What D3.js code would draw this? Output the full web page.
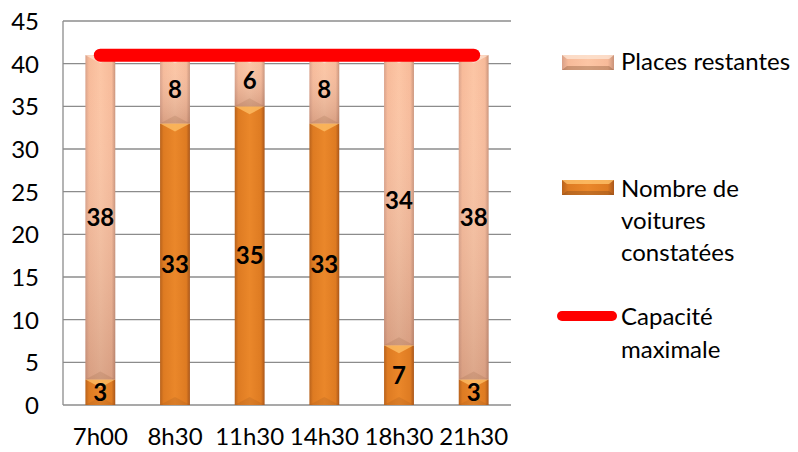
<!DOCTYPE html>
<html>
<head>
<meta charset="utf-8">
<script src="https://cdn.jsdelivr.net/npm/d3@7/dist/d3.min.js"></script>
<style>
  html, body { margin: 0; padding: 0; background: #fff; }
  svg { display: block; font-family: Lato, "Open Sans", sans-serif; }
</style>
</head>
<body>
<svg id="chart" width="798" height="452"></svg>
<script>
// Parking occupancy per time slot
const categories = ["7h00", "8h30", "11h30", "14h30", "18h30", "21h30"];
const voitures = [3, 33, 35, 33, 7, 3];          // Nombre de voitures constatées
const placesRestantes = [38, 8, 6, 8, 34, 38];   // Places restantes
const capacite = [41, 41, 41, 41, 41, 41];       // Capacité maximale
const yTicks = [0, 5, 10, 15, 20, 25, 30, 35, 40, 45];
const seriesNames = ["Places restantes", "Nombre de voitures constatées", "Capacité maximale"];

const svg = d3.select("#chart");
const margin = { left: 63, right: 287, top: 21, bottom: 47 };
const W = 798, H = 452;
const FS = 24;

const x = d3.scaleBand()
  .domain(categories)
  .range([margin.left, W - margin.right])
  .paddingInner(0.6)
  .paddingOuter(0.3);

const y = d3.scaleLinear()
  .domain([0, 45])
  .range([H - margin.bottom, margin.top]);

// Gradients giving the bars a rounded, shaded look
const defs = svg.append("defs");
function hGrad(id, stops) {
  const g = defs.append("linearGradient").attr("id", id)
    .attr("x1", "0%").attr("x2", "100%").attr("y1", "0%").attr("y2", "0%");
  stops.forEach(s => g.append("stop").attr("offset", s[0]).attr("stop-color", s[1]));
}
function vGrad(id, stops) {
  const g = defs.append("linearGradient").attr("id", id)
    .attr("x1", "0%").attr("x2", "0%").attr("y1", "0%").attr("y2", "100%");
  stops.forEach(s => g.append("stop").attr("offset", s[0]).attr("stop-color", s[1]).attr("stop-opacity", s[2]));
}
hGrad("gOrange", [["0%", "#b8621c"], ["12%", "#de7b22"], ["50%", "#ea872a"], ["88%", "#de7b22"], ["100%", "#a9561a"]]);
hGrad("gPeach", [["0%", "#d9a088"], ["12%", "#f7ba99"], ["50%", "#fcc5a4"], ["88%", "#f7ba99"], ["100%", "#c99279"]]);
vGrad("gShadeV", [["0%", "#ffffff", 0], ["100%", "#7a4a3a", 0.25]]);

// Grid
const grid = svg.append("g");
grid.selectAll("line")
  .data(yTicks)
  .join("line")
  .attr("x1", margin.left).attr("x2", W - margin.right)
  .attr("y1", d => y(d)).attr("y2", d => y(d))
  .attr("stroke", "#8c8c8c").attr("stroke-width", 1.3);

svg.append("line")
  .attr("x1", margin.left).attr("x2", margin.left)
  .attr("y1", y(45)).attr("y2", y(0))
  .attr("stroke", "#8c8c8c").attr("stroke-width", 1.3);

// Y axis labels
const yAxis = d3.axisLeft(y).tickValues(yTicks).tickSize(0).tickPadding(0);
const yG = svg.append("g").attr("transform", `translate(${margin.left - 24},0)`).call(yAxis);
yG.select(".domain").remove();
yG.selectAll("text").attr("font-size", FS).attr("fill", "#000")
  .attr("font-family", "Lato, sans-serif").attr("dy", "0.36em");

// X axis labels
const xAxis = d3.axisBottom(x).tickSize(0).tickPadding(0);
const xG = svg.append("g").attr("transform", `translate(0,${y(0) + 23})`).call(xAxis);
xG.select(".domain").remove();
xG.selectAll("text").attr("font-size", FS).attr("fill", "#000")
  .attr("font-family", "Lato, sans-serif").attr("dy", "0.71em");

// Stacked bars
const stackData = categories.map((c, i) => ({ cat: c, voitures: voitures[i], places: placesRestantes[i] }));
const stack = d3.stack().keys(["voitures", "places"]);
const layers = stack(stackData);
const fills = { voitures: "url(#gOrange)", places: "url(#gPeach)" };
const bevel = { voitures: "#ffc26a", places: "#fde3d2" };

const bw = x.bandwidth();
layers.forEach(layer => {
  const g = svg.append("g");
  const segs = g.selectAll("g").data(layer).join("g");
  segs.append("rect")
    .attr("x", d => x(d.data.cat))
    .attr("y", d => y(d[1]))
    .attr("width", bw)
    .attr("height", d => y(d[0]) - y(d[1]))
    .attr("fill", fills[layer.key]);
  if (layer.key === "places") {
    segs.append("rect")
      .attr("x", d => x(d.data.cat))
      .attr("y", d => y(d[1]))
      .attr("width", bw)
      .attr("height", d => y(d[0]) - y(d[1]))
      .attr("fill", "url(#gShadeV)");
  }
  // top bevel
  segs.append("path")
    .attr("d", d => {
      const x0 = x(d.data.cat), yt = y(d[1]);
      return `M${x0},${yt} L${x0 + bw},${yt} L${x0 + bw / 2},${yt + 8} Z`;
    })
    .attr("fill", bevel[layer.key]).attr("opacity", 0.75);
  // bottom bevel shadow
  segs.append("path")
    .attr("d", d => {
      const x0 = x(d.data.cat), yb = y(d[0]);
      return `M${x0},${yb} L${x0 + bw},${yb} L${x0 + bw / 2},${yb - 8} Z`;
    })
    .attr("fill", "#6b3a1c").attr("opacity", 0.12);
  // value labels
  segs.append("text")
    .attr("x", d => x(d.data.cat) + bw / 2)
    .attr("y", d => y((d[0] + d[1]) / 2))
    .attr("dy", "0.36em")
    .attr("text-anchor", "middle")
    .attr("font-size", FS).attr("font-weight", "bold")
    .attr("font-family", "Lato, sans-serif")
    .attr("fill", "#000")
    .text(d => d[1] - d[0]);
});

// Capacity line
const line = d3.line()
  .x((d, i) => x(categories[i]) + bw / 2)
  .y(d => y(d));
svg.append("path")
  .datum(capacite)
  .attr("d", line)
  .attr("fill", "none")
  .attr("stroke", "#ff0000")
  .attr("stroke-width", 13)
  .attr("stroke-linecap", "round");

// Legend
const lg = svg.append("g").attr("font-family", "Lato, sans-serif").attr("font-size", 24);
function swatch(yy, key) {
  lg.append("rect").attr("x", 562).attr("y", yy).attr("width", 52).attr("height", 15)
    .attr("fill", fills[key]);
  lg.append("path")
    .attr("d", `M562,${yy} L614,${yy} L609,${yy + 4} L567,${yy + 4} Z`)
    .attr("fill", bevel[key]).attr("opacity", 0.8);
  lg.append("path")
    .attr("d", `M562,${yy + 15} L614,${yy + 15} L609,${yy + 11} L567,${yy + 11} Z`)
    .attr("fill", "#6b3a1c").attr("opacity", 0.3);
}
swatch(55, "places");
lg.append("text").attr("x", 621).attr("y", 61).attr("dy", "0.36em").text(seriesNames[0]);

swatch(180, "voitures");
["Nombre de", "voitures", "constatées"].forEach((t, i) =>
  lg.append("text").attr("x", 621).attr("y", 188 + i * 32).attr("dy", "0.36em").text(t));

lg.append("line").attr("x1", 562).attr("x2", 612).attr("y1", 316).attr("y2", 316)
  .attr("stroke", "#ff0000").attr("stroke-width", 10).attr("stroke-linecap", "round");
["Capacité", "maximale"].forEach((t, i) =>
  lg.append("text").attr("x", 621).attr("y", 316 + i * 33).attr("dy", "0.36em").text(t));
</script>
</body>
</html>
